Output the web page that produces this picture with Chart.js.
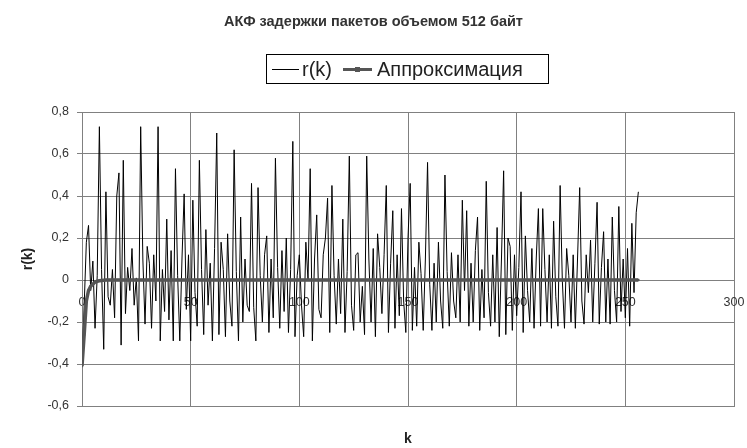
<!DOCTYPE html>
<html>
<head>
<meta charset="utf-8">
<script src="https://cdn.jsdelivr.net/npm/chart.js@4.4.0/dist/chart.umd.min.js"></script>
<style>
  html, body { margin: 0; padding: 0; background: #fff; }
  #wrap { position: relative; width: 747px; height: 448px; font-family: "Liberation Sans", Arial, sans-serif; }
  #c { position: absolute; left: 0; top: 0; }
  #title { position: absolute; left: 0; top: 13px; width: 747px; text-align: center; font-weight: bold; font-size: 14.5px; color: #333; }
  #legend { position: absolute; left: 266px; top: 54px; width: 281px; height: 28px; border: 1px solid #000; font-size: 20px; color: #222; }
  .ln { position: absolute; top: 14px; height: 0; border-top: 1px solid #000; }
  .ln2 { border-top: 3px solid #555; top: 13px; }
  .mk { position: absolute; width: 5px; height: 5px; background: #555; top: 12px; }
  .tx { position: absolute; top: 3px; white-space: nowrap; line-height: 22px; }
</style>
</head>
<body>
<div id="wrap">
  <canvas id="c" width="747" height="448"></canvas>
  <div id="title">АКФ задержки пакетов объемом 512 байт</div>
  <div id="legend">
    <span class="ln" style="left:5px;width:27px"></span>
    <span class="tx" style="left:35px">r(k)</span>
    <span class="ln ln2" style="left:76px;width:29px"></span>
    <span class="mk" style="left:88px"></span>
    <span class="tx" style="left:110px">Аппроксимация</span>
  </div>
</div>
<script>
// r(k), k = 0..256
const rk = [
 -0.41,-0.12,0.18,0.26,-0.05,0.09,-0.23,0.02,0.73,0.05,
 -0.33,0.42,-0.08,-0.12,0.05,-0.18,0.40,0.51,-0.31,0.57,
 -0.16,0.06,-0.05,0.15,-0.12,0.01,-0.29,0.73,0.10,-0.21,
 0.16,0.08,-0.23,0.12,-0.10,0.73,-0.29,0.05,-0.15,0.29,
 -0.19,0.14,-0.29,0.53,0.02,-0.29,0.10,0.41,-0.14,0.12,
 -0.29,0.38,-0.06,-0.22,0.57,0.05,-0.26,0.24,-0.12,0.08,
 -0.29,0.15,0.70,-0.26,0.18,0.05,-0.27,0.22,-0.10,-0.22,
 0.62,0.04,-0.29,0.30,-0.20,0.10,-0.12,-0.15,0.46,-0.13,
 -0.29,0.44,0.02,-0.20,0.12,0.21,-0.25,0.10,-0.18,0.58,
 0.06,-0.23,0.14,-0.15,0.20,-0.25,0.05,0.66,-0.27,0.02,
 0.12,-0.12,-0.27,0.18,0.00,0.53,-0.29,0.10,0.31,-0.14,
 -0.18,0.12,0.20,0.39,-0.25,0.45,0.02,-0.21,0.10,-0.16,
 0.29,-0.25,0.04,0.59,-0.12,-0.24,0.12,0.13,-0.20,-0.03,
 -0.26,0.59,0.10,-0.20,0.15,-0.27,0.22,0.06,-0.16,0.12,
 0.45,-0.25,0.08,0.33,-0.23,0.12,-0.17,0.34,-0.10,-0.25,
 0.20,0.46,-0.24,0.06,-0.22,0.18,0.03,-0.24,0.10,0.56,
 -0.02,-0.24,0.08,-0.20,0.18,-0.10,-0.23,0.50,0.04,-0.22,
 0.13,-0.10,-0.18,0.12,-0.20,0.38,-0.05,0.33,-0.22,0.08,
 -0.20,0.14,0.30,-0.24,0.05,-0.18,0.47,-0.06,-0.22,0.12,
 -0.20,0.25,-0.27,0.10,0.52,-0.26,0.20,0.16,-0.24,0.12,
 -0.17,0.06,0.42,-0.25,0.21,-0.05,-0.20,0.15,-0.23,0.10,
 0.34,-0.22,0.34,0.05,-0.20,0.12,-0.23,0.28,-0.08,-0.22,
 0.45,0.00,-0.23,0.15,0.02,-0.20,0.12,-0.23,0.10,0.44,
 -0.10,-0.21,0.12,-0.06,0.19,-0.20,0.08,0.37,-0.21,0.06,
 0.23,-0.20,0.10,-0.21,0.30,-0.05,-0.20,0.35,-0.15,0.10,
 -0.18,0.15,-0.22,0.27,-0.06,0.32,0.42
];
// Approximation, k = 0..256
const approx = [
 -0.41,-0.26,-0.10,-0.05,-0.03,-0.02,-0.01,-0.006,-0.004,-0.002,
 -0.001,0,0,0,0,0,0,0,0,0,
 0,0,0,0,0,0,0,0,0,0,
 0,0,0,0,0,0,0,0,0,0,
 0,0,0,0,0,0,0,0,0,0,
 0,0,0,0,0,0,0,0,0,0,
 0,0,0,0,0,0,0,0,0,0,
 0,0,0,0,0,0,0,0,0,0,
 0,0,0,0,0,0,0,0,0,0,
 0,0,0,0,0,0,0,0,0,0,
 0,0,0,0,0,0,0,0,0,0,
 0,0,0,0,0,0,0,0,0,0,
 0,0,0,0,0,0,0,0,0,0,
 0,0,0,0,0,0,0,0,0,0,
 0,0,0,0,0,0,0,0,0,0,
 0,0,0,0,0,0,0,0,0,0,
 0,0,0,0,0,0,0,0,0,0,
 0,0,0,0,0,0,0,0,0,0,
 0,0,0,0,0,0,0,0,0,0,
 0,0,0,0,0,0,0,0,0,0,
 0,0,0,0,0,0,0,0,0,0,
 0,0,0,0,0,0,0,0,0,0,
 0,0,0,0,0,0,0,0,0,0,
 0,0,0,0,0,0,0,0,0,0,
 0,0,0,0,0,0,0,0,0,0,
 0,0,0,0,0,0,0
];
const seriesNames = ["r(k)", "Аппроксимация"];
const xTitle = "k";
const yTitle = "r(k)";

const FONT = "'Liberation Sans', Arial, sans-serif";
const grid = "#808080";

new Chart(document.getElementById("c"), {
  type: "line",
  data: {
    datasets: [
      {
        label: seriesNames[1],
        data: approx.map((v, i) => ({ x: i, y: v })),
        borderColor: "#555",
        backgroundColor: "#555",
        borderWidth: 3.5,
        pointStyle: "rect",
        pointRadius: 1.6,
        pointBorderWidth: 0,
        pointBackgroundColor: "#555",
        order: 0
      },
      {
        label: seriesNames[0],
        data: rk.map((v, i) => ({ x: i, y: v })),
        borderColor: "#000",
        borderWidth: 1,
        pointRadius: 0,
        order: 1
      }
    ]
  },
  options: {
    responsive: false,
    animation: false,
    events: [],
    layout: { padding: { top: 112, right: 13, bottom: 0, left: 0 } },
    plugins: { legend: { display: false }, title: { display: false }, tooltip: { enabled: false } },
    scales: {
      x: {
        type: "linear", min: 0, max: 300, position: "bottom",
        ticks: { display: false, stepSize: 50 },
        grid: { color: grid, lineWidth: 1, drawTicks: false },
        border: { color: grid, width: 1 },
        title: { display: true, text: xTitle, color: "#222", font: { family: FONT, size: 14, weight: "bold" }, padding: { top: 0, bottom: 0 } },
        afterFit: s => { s.height = 42; s.paddingLeft = 0; s.paddingRight = 0; }
      },
      x0: {
        type: "linear", min: 0, max: 300, position: { y: 0 },
        ticks: { stepSize: 50, color: "#333", font: { family: FONT, size: 12.5 }, padding: 11, maxRotation: 0 },
        grid: { display: true, drawOnChartArea: false, drawTicks: true, tickLength: 4, color: grid },
        border: { display: true, color: grid },
        afterFit: s => { s.paddingLeft = 0; s.paddingRight = 0; }
      },
      y: {
        type: "linear", min: -0.6, max: 0.8, position: "left",
        ticks: { stepSize: 0.2, color: "#333", font: { family: FONT, size: 12.5 }, padding: 8,
          callback: v => { const r = Math.round(v * 10) / 10; return r === 0 ? "0" : String(r).replace(".", ","); } },
        grid: { color: grid, lineWidth: 1, drawTicks: true, tickLength: 5 },
        border: { color: grid, width: 1 },
        title: { display: true, text: yTitle, color: "#222", font: { family: FONT, size: 14, weight: "bold" }, padding: { top: 20, bottom: 0 } },
        afterFit: s => { s.width = 82; }
      }
    }
  }
});
</script>
</body>
</html>
